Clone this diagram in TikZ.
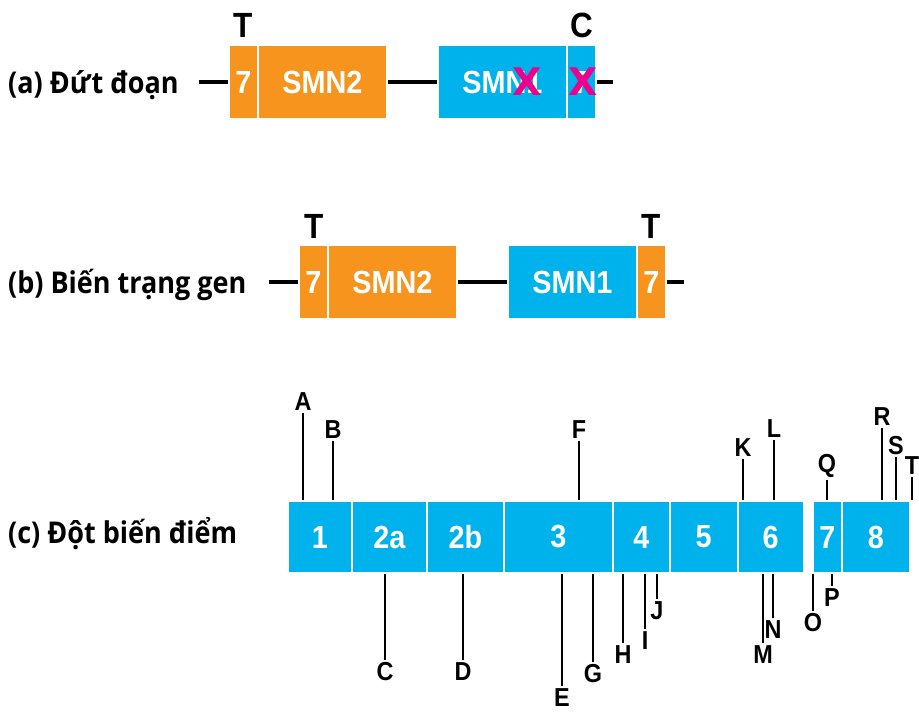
\documentclass[tikz,border=0pt]{standalone}
\usepackage{fontspec}
\setmainfont{Liberation Sans}
\newfontfamily\narrowbf{Liberation Sans}[FakeStretch=0.9]
\newfontfamily\rowfont{Open Sans}[FakeStretch=0.9]
\newfontfamily\crossfont{DejaVu Sans}
\definecolor{smnorange}{HTML}{F7941D}
\definecolor{smnblue}{HTML}{00B2EC}
\definecolor{smnmagenta}{HTML}{EC008C}
\tikzset{
  block/.style={draw=white, line width=2pt, inner sep=0pt, text=white,
    font=\narrowbf\bfseries\fontsize{32}{32}\selectfont},
  orangebox/.style={block, fill=smnorange, minimum height=74},
  bluebox/.style={block, fill=smnblue, minimum height=74},
  exon/.style={block, fill=smnblue, minimum height=72},
  gene/.style={line width=3.5pt, black},
  tick/.style={line width=2pt, black},
  mut/.style={inner sep=2.5pt, font=\narrowbf\bfseries\fontsize{26}{26}\selectfont},
  allele/.style={inner sep=0pt, font=\narrowbf\bfseries\fontsize{35}{35}\selectfont},
  rowlabel/.style={anchor=base west, inner sep=0pt, font=\rowfont\bfseries\fontsize{30}{30}\selectfont},
  cross/.style={inner sep=0pt, text=smnmagenta, font=\crossfont\bfseries\fontsize{38}{38}\selectfont}
}
\begin{document}
\begin{tikzpicture}[x=1pt, y=-1pt]
\useasboundingbox (0,0) rectangle (919,717);

% ---- (a) deletion ----
\node[rowlabel] (ra) at (8,93) {(a) Đứt đoạn};
\node[orangebox, minimum width=29] (a7) at (243.5,82) {7};
\node[orangebox, minimum width=129] (a2) at (322.5,82) {SMN2};
\node[bluebox, minimum width=129] (a1) at (502.5,82) {SMN1};
\node[bluebox, minimum width=29] (a7b) at (581.5,82) {7};
\coordinate (aL) at (199,82);
\coordinate (aR) at (613,82);
\draw[gene] (aL) -- (a7.west);
\draw[gene] (a2.east) -- (a1.west);
\draw[gene] (a7b.east) -- (aR);
\node[cross] (x1) at (527,82) {X};
\node[cross] (x2) at (583,82) {X};
\node[allele] (aT) at (243,25) {T};
\node[allele] (aC) at (582,25) {C};

% ---- (b) gene conversion ----
\node[rowlabel] (rb) at (8,293) {(b) Biến trạng gen};
\node[orangebox, minimum width=29] (b7) at (313.5,282) {7};
\node[orangebox, minimum width=129] (b2) at (392.5,282) {SMN2};
\node[bluebox, minimum width=129] (b1) at (572.5,282) {SMN1};
\node[orangebox, minimum width=29] (b7b) at (651.5,282) {7};
\coordinate (bL) at (269,282);
\coordinate (bR) at (684,282);
\draw[gene] (bL) -- (b7.west);
\draw[gene] (b2.east) -- (b1.west);
\draw[gene] (b7b.east) -- (bR);
\node[allele] (bT) at (314,226) {T};
\node[allele] (bT2) at (651,226) {T};

% ---- (c) point mutations ----
\node[rowlabel] (rc) at (8,543) {(c) Đột biến điểm};
\node[exon, minimum width=64]   (e1)  at (320,537)    {1};
\node[exon, minimum width=75]   (e2a) at (389.5,537)  {2a};
\node[exon, minimum width=77]   (e2b) at (465.5,537)  {2b};
\node[exon, minimum width=109]  (e3)  at (558.5,537)  {3};
\node[exon, minimum width=57]   (e4)  at (641.5,537)  {4};
\node[exon, minimum width=67.5] (e5)  at (703.75,537) {5};
\node[exon, minimum width=66.5] (e6)  at (770.75,537) {6};
\node[exon, minimum width=29]   (e7)  at (827.5,537)  {7};
\node[exon, minimum width=68]   (e8)  at (876,537)    {8};

% mutations above the exons
\node[mut, anchor=south] (A) at (303,413) {A};
\node[mut, anchor=south] (B) at (333,441) {B};
\node[mut, anchor=south] (F) at (579,441) {F};
\node[mut, anchor=south] (K) at (743,459) {K};
\node[mut, anchor=south] (L) at (774,440) {L};
\node[mut, anchor=south] (Q) at (827,480) {Q};
\node[mut, anchor=south] (R) at (882,428) {R};
\node[mut, anchor=south] (S) at (896,457) {S};
\node[mut, anchor=south] (T) at (912,477) {T};
\draw[tick] (A.south) -- (A.south |- e1.north);
\draw[tick] (B.south) -- (B.south |- e1.north);
\draw[tick] (F.south) -- (F.south |- e3.north);
\draw[tick] (K.south) -- (K.south |- e6.north);
\draw[tick] (L.south) -- (L.south |- e6.north);
\draw[tick] (Q.south) -- (Q.south |- e7.north);
\draw[tick] (R.south) -- (R.south |- e8.north);
\draw[tick] (S.south) -- (S.south |- e8.north);
\draw[tick] (T.south) -- (T.south |- e8.north);

% mutations below the exons
\node[mut, anchor=north] (C) at (385,660) {C};
\node[mut, anchor=north] (D) at (463,660) {D};
\node[mut, anchor=north] (E) at (562,686) {E};
\node[mut, anchor=north] (G) at (593,662) {G};
\node[mut, anchor=north] (H) at (623,643) {H};
\node[mut, anchor=north] (I) at (645,629) {I};
\node[mut, anchor=north] (J) at (657,599) {J};
\node[mut, anchor=north] (M) at (763,643) {M};
\node[mut, anchor=north] (N) at (773,618) {N};
\node[mut, anchor=north] (O) at (813,611) {O};
\node[mut, anchor=north] (P) at (832,586) {P};
\draw[tick] (C.north) -- (C.north |- e2a.south);
\draw[tick] (D.north) -- (D.north |- e2b.south);
\draw[tick] (E.north) -- (E.north |- e3.south);
\draw[tick] (G.north) -- (G.north |- e3.south);
\draw[tick] (H.north) -- (H.north |- e4.south);
\draw[tick] (I.north) -- (I.north |- e4.south);
\draw[tick] (J.north) -- (J.north |- e4.south);
\draw[tick] (M.north) -- (M.north |- e6.south);
\draw[tick] (N.north) -- (N.north |- e6.south);
\draw[tick] (O.north) -- (O.north |- e7.south);
\draw[tick] (P.north) -- (P.north |- e7.south);
\end{tikzpicture}
\end{document}
